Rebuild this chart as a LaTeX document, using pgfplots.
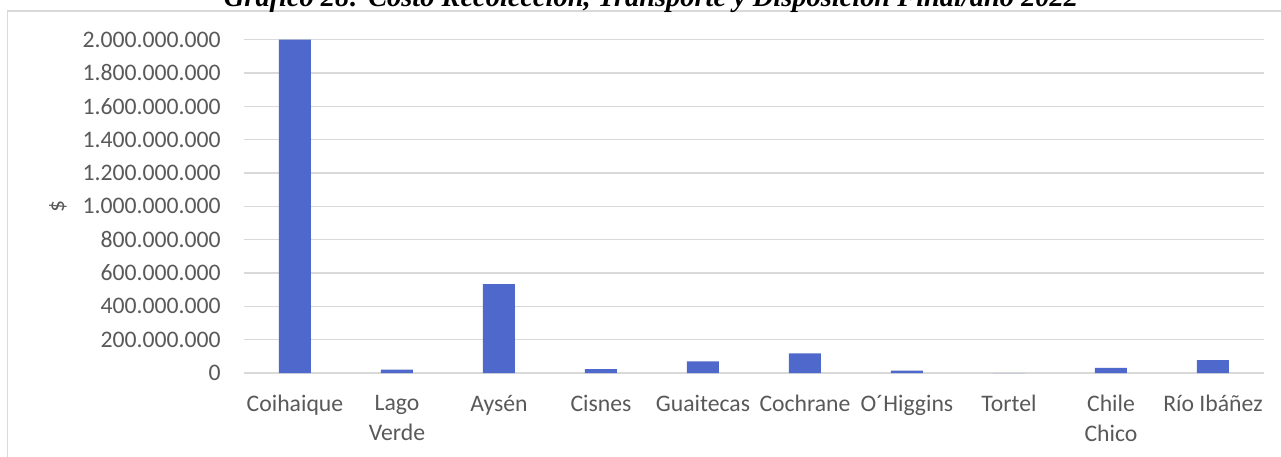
\documentclass[border=0pt]{standalone}
\usepackage{pgfplots}
\pgfplotsset{compat=1.18}
\usepackage{fontspec}
\setmainfont{Carlito}
\newfontfamily\titlefont{Liberation Serif}
\definecolor{barc}{HTML}{4F68CB}
\definecolor{gridc}{HTML}{D9D9D9}
\definecolor{txt}{HTML}{595959}
\begin{document}
\begin{tikzpicture}
\useasboundingbox (0pt,0pt) rectangle (640.5pt,228pt);
\draw[gridc, line width=0.75pt] (3.75pt,-5pt) -- (3.75pt,222.5pt) -- (650pt,222.5pt);
\node[anchor=base, inner sep=0pt, font=\titlefont\bfseries\itshape\fontsize{14.2}{16}\selectfont] at (325.5pt,224.6pt) {Gráfico 28: Costo Recolección, Transporte y Disposición Final/año 2022};
\begin{axis}[
  at={(122pt,41.5pt)}, anchor=south west,
  scale only axis, width=510pt, height=166.67pt,
  ybar, bar width=16pt,
  xmin=-0.5, xmax=9.5, ymin=0, ymax=2e9,
  axis line style={draw=none},
  major tick length=0pt,
  scaled y ticks=false,
  ymajorgrids, grid style={gridc, line width=0.75pt},
  ytick={0,2e8,4e8,6e8,8e8,1e9,1.2e9,1.4e9,1.6e9,1.8e9,2e9},
  yticklabels={0,200.000.000,400.000.000,600.000.000,800.000.000,1.000.000.000,1.200.000.000,1.400.000.000,1.600.000.000,1.800.000.000,2.000.000.000},
  xtick={0,...,9},
  xticklabels={Coihaique,{Lago\\Verde},Aysén,Cisnes,Guaitecas,Cochrane,O´Higgins,Tortel,{Chile\\Chico},Río Ibáñez},
  tick label style={font=\fontsize{11.85}{15}\selectfont, text=txt},
  yticklabel style={anchor=east, inner sep=0pt, xshift=-11.5pt},
  xticklabel style={anchor=north, inner sep=0pt, yshift=-10.8pt, align=center},
  clip=false,
]
\addplot[fill=barc, draw=none] coordinates {
(0,2000000000) (1,20000000) (2,534000000) (3,24000000) (4,70000000)
(5,118000000) (6,15000000) (7,0) (8,31000000) (9,77000000)
};
\node[rotate=90, anchor=center, inner sep=0pt, text=txt, font=\fontsize{11.85}{15}\selectfont] at ([xshift=-93pt]rel axis cs:0,0.5) {\$};
\end{axis}
\end{tikzpicture}
\end{document}
